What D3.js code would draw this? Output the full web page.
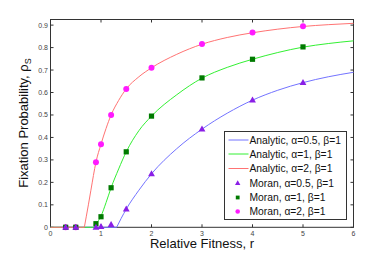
<!DOCTYPE html>
<html>
<head>
<meta charset="utf-8">
<script src="https://cdn.jsdelivr.net/npm/d3@7"></script>
<style>
  body { margin: 0; background: #fff; }
  text { font-family: "Liberation Sans", Arial, sans-serif; }
</style>
</head>
<body>
<div id="vis"></div>
<script>
// analytic curves, each starts after its flat zero part
const redR   = [0.67, 0.75, 0.8, 0.9, 1, 1.1, 1.2, 1.35, 1.5, 1.75, 2, 2.5, 3, 3.5, 4, 4.5, 5, 5.5, 6];
const redV   = [0, 0.10, 0.165, 0.29, 0.37, 0.44, 0.50, 0.565, 0.616, 0.67, 0.71, 0.77, 0.815, 0.845, 0.866, 0.882, 0.894, 0.902, 0.908];
const greenR = [0.86, 0.9, 0.95, 1, 1.1, 1.2, 1.35, 1.5, 1.75, 2, 2.5, 3, 3.5, 4, 4.5, 5, 5.5, 6];
const greenV = [0, 0.014, 0.03, 0.05, 0.11, 0.176, 0.26, 0.336, 0.43, 0.495, 0.59, 0.664, 0.712, 0.748, 0.778, 0.802, 0.818, 0.83];
const blueR  = [1.31, 1.4, 1.5, 1.75, 2, 2.5, 3, 3.5, 4, 4.5, 5, 5.5, 6];
const blueV  = [0, 0.04, 0.081, 0.165, 0.238, 0.35, 0.437, 0.508, 0.566, 0.61, 0.644, 0.67, 0.69];

// Moran simulation points
const moranR      = [0.3, 0.5, 0.9, 1, 1.2, 1.5, 2, 3, 4, 5];
const moranHalf   = [0, 0, 0, 0.003, 0.012, 0.081, 0.238, 0.437, 0.566, 0.644];
const moranOne    = [0, 0, 0.016, 0.047, 0.176, 0.336, 0.495, 0.665, 0.748, 0.803];
const moranTwo    = [0, 0, 0.29, 0.37, 0.50, 0.616, 0.71, 0.816, 0.867, 0.895];

const xTicks = [0, 1, 2, 3, 4, 5, 6];
const yTicks = [0, 0.1, 0.2, 0.3, 0.4, 0.5, 0.6, 0.7, 0.8, 0.9];

const legendLabels = [
  "Analytic, \u03b1=0.5, \u03b2=1",
  "Analytic, \u03b1=1, \u03b2=1",
  "Analytic, \u03b1=2, \u03b2=1",
  "Moran, \u03b1=0.5, \u03b2=1",
  "Moran, \u03b1=1, \u03b2=1",
  "Moran, \u03b1=2, \u03b2=1"
];

const W = 390, H = 256;
const pLeft = 50.5, pRight = 353.5, pTop = 19.5, pBottom = 227.3;

const svg = d3.select("#vis").append("svg")
  .attr("width", W)
  .attr("height", H);

const x = d3.scaleLinear().domain([0, 6]).range([pLeft, pRight]);
const y = d3.scaleLinear().domain([0, 0.925]).range([pBottom, pTop]);

// box + ticks
const axisCol = "#333";
svg.append("rect")
  .attr("x", pLeft).attr("y", pTop)
  .attr("width", pRight - pLeft).attr("height", pBottom - pTop)
  .attr("fill", "#fff").attr("stroke", axisCol).attr("stroke-width", 1);

const g = svg.append("g");
const tl = 3;
xTicks.forEach(t => {
  g.append("line").attr("x1", x(t)).attr("x2", x(t)).attr("y1", pBottom).attr("y2", pBottom - tl).attr("stroke", axisCol);
  g.append("line").attr("x1", x(t)).attr("x2", x(t)).attr("y1", pTop).attr("y2", pTop + tl).attr("stroke", axisCol);
  g.append("text").attr("x", x(t)).attr("y", 235.5)
    .attr("text-anchor", "middle").attr("font-size", 7).attr("fill", "#444").text(t);
});
yTicks.forEach(t => {
  g.append("line").attr("y1", y(t)).attr("y2", y(t)).attr("x1", pLeft).attr("x2", pLeft + tl).attr("stroke", axisCol);
  g.append("line").attr("y1", y(t)).attr("y2", y(t)).attr("x1", pRight).attr("x2", pRight - tl).attr("stroke", axisCol);
  g.append("text").attr("x", 48).attr("y", y(t) + 2.5)
    .attr("text-anchor", "end").attr("font-size", 7).attr("fill", "#444").text(t);
});

// curves
const line = d3.line().x(d => x(d[0])).y(d => y(d[1])).curve(d3.curveMonotoneX);
function drawCurve(rs, vs, color) {
  svg.append("line")
    .attr("x1", x(0)).attr("x2", x(rs[0]))
    .attr("y1", y(0)).attr("y2", y(0))
    .attr("stroke", color).attr("stroke-width", 1);
  svg.append("path")
    .datum(d3.zip(rs, vs))
    .attr("fill", "none")
    .attr("stroke", color)
    .attr("stroke-width", 1)
    .attr("d", line);
}
const cBlue = "#7373ff", cGreen = "#33f033", cRed = "#ff7373";
drawCurve(blueR, blueV, cBlue);
drawCurve(greenR, greenV, cGreen);
drawCurve(redR, redV, cRed);

// markers
const mTri = "#8a1ee6", mSq = "#007a00", mCirc = "#ff1aff";
function circle(sel, cx, cy) {
  sel.append("circle").attr("cx", cx).attr("cy", cy).attr("r", 3).attr("fill", mCirc);
}
function square(sel, cx, cy) {
  sel.append("rect").attr("x", cx - 2.6).attr("y", cy - 2.6).attr("width", 5.2).attr("height", 5.2).attr("fill", mSq);
}
function tri(sel, cx, cy) {
  sel.append("path").attr("d", `M${cx},${cy - 3.6}L${cx + 3.4},${cy + 2.4}L${cx - 3.4},${cy + 2.4}Z`).attr("fill", mTri);
}
moranR.forEach((r, i) => circle(svg, x(r), y(moranTwo[i])));
moranR.forEach((r, i) => square(svg, x(r), y(moranOne[i])));
moranR.forEach((r, i) => tri(svg, x(r), y(moranHalf[i])));

// legend
const lg = svg.append("g");
lg.append("rect").attr("x", 224.5).attr("y", 131.5).attr("width", 122).attr("height", 88)
  .attr("fill", "#fff").attr("stroke", axisCol).attr("stroke-width", 1);
const rowY = [140, 154, 168.5, 183, 197.5, 211.5];
const lineCols = [cBlue, cGreen, cRed];
legendLabels.forEach((lab, i) => {
  const cy = rowY[i];
  if (i < 3) {
    lg.append("line").attr("x1", 228.5).attr("x2", 248.5).attr("y1", cy).attr("y2", cy)
      .attr("stroke", lineCols[i]).attr("stroke-width", 1);
  } else if (i === 3) {
    lg.append("path").attr("d", `M237.7,${cy - 2.8}L240.4,${cy + 1.9}L235,${cy + 1.9}Z`).attr("fill", mTri);
  } else if (i === 4) {
    lg.append("rect").attr("x", 235.8).attr("y", cy - 1.9).attr("width", 3.8).attr("height", 3.8).attr("fill", mSq);
  } else {
    lg.append("circle").attr("cx", 237.7).attr("cy", cy).attr("r", 2.3).attr("fill", mCirc);
  }
  lg.append("text").attr("x", 249.5).attr("y", cy + 3.7)
    .attr("font-size", 10.3).attr("fill", "#111").text(lab);
});

// axis labels
svg.append("text")
  .attr("x", (pLeft + pRight) / 2).attr("y", 247.5)
  .attr("text-anchor", "middle").attr("font-size", 13).attr("fill", "#111")
  .text("Relative Fitness, r");

const yl = svg.append("text")
  .attr("transform", "translate(28,123) rotate(-90)")
  .attr("text-anchor", "middle").attr("font-size", 13).attr("fill", "#111");
yl.append("tspan").text("Fixation Probability, \u03c1");
yl.append("tspan").attr("font-size", 9).attr("dy", 3).text("S");
</script>
</body>
</html>
